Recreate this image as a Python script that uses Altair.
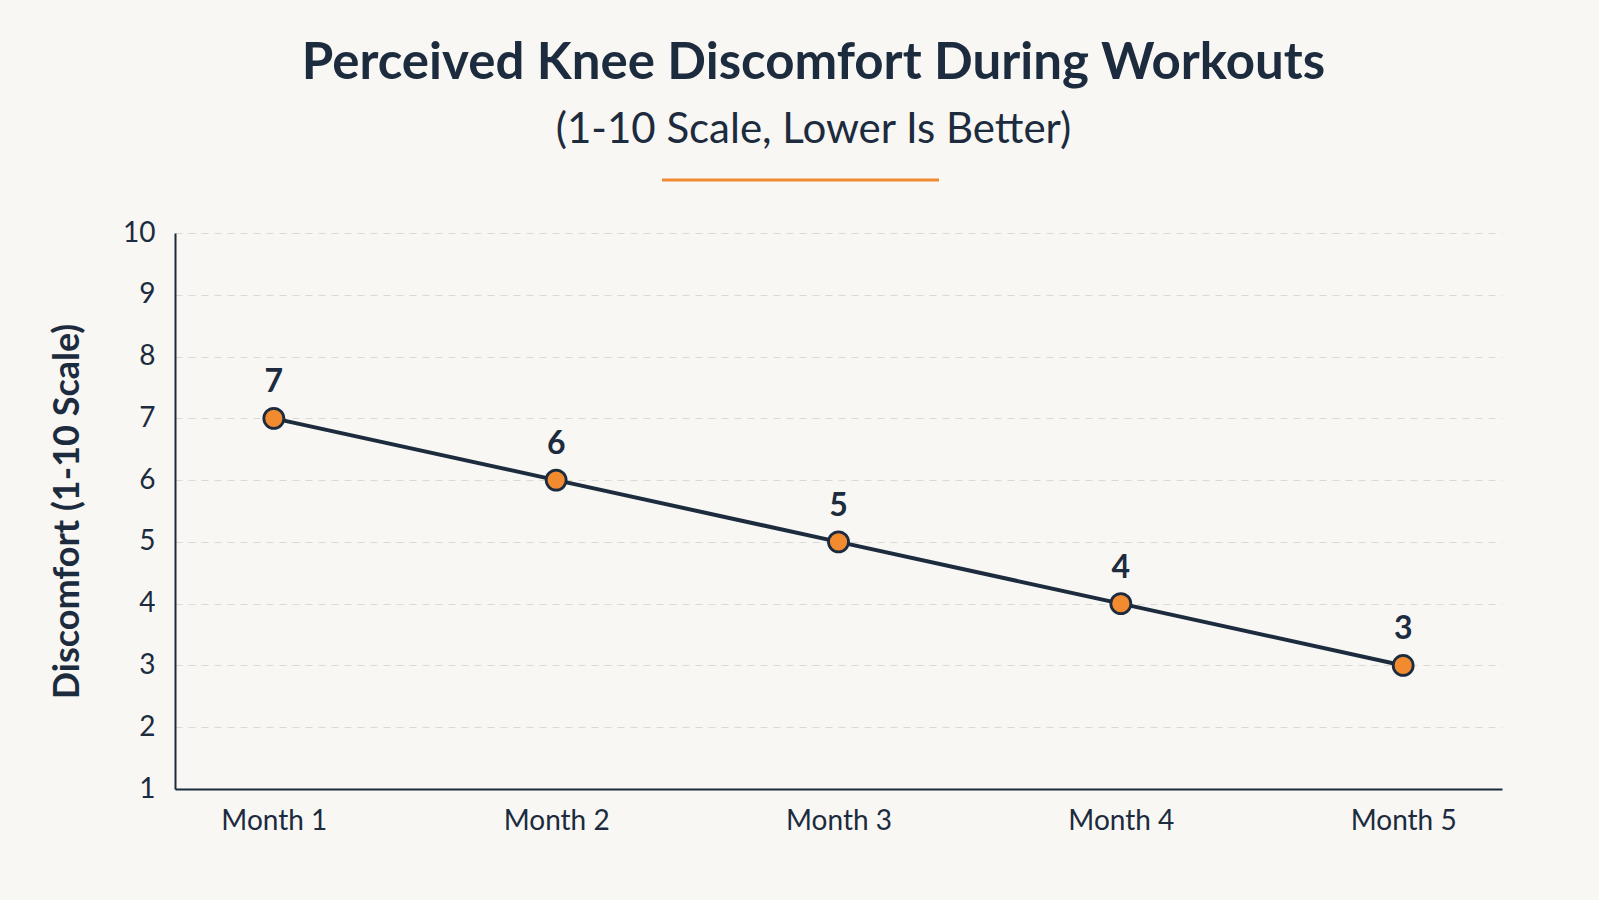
import altair as alt
import pandas as pd

# Monthly self-reported knee discomfort (1-10 scale)
months = ["Month 1", "Month 2", "Month 3", "Month 4", "Month 5"]
discomfort = [7, 6, 5, 4, 3]
y_ticks = [1, 2, 3, 4, 5, 6, 7, 8, 9, 10]

NAVY = "#1c2b3e"
ORANGE = "#f28a30"
BG = "#f8f7f3"
FONT = "Lato"

df = pd.DataFrame({"month": months, "discomfort": discomfort})

x_enc = alt.X(
    "month:N",
    sort=months,
    scale=alt.Scale(type="point", padding=0.35),
    axis=alt.Axis(
        title=None,
        labelFontSize=28,
        labelColor=NAVY,
        labelFont=FONT,
        labelPadding=18,
        labelAngle=0,
        ticks=False,
        domain=True,
        domainColor=NAVY,
        domainWidth=2,
        grid=False,
    ),
)
y_enc = alt.Y(
    "discomfort:Q",
    scale=alt.Scale(domain=[1, 10], nice=False, zero=False),
    axis=alt.Axis(
        title="Discomfort (1-10 Scale)",
        titleFont=FONT,
        titleFontSize=36,
        titleFontWeight="bold",
        titleColor=NAVY,
        titlePadding=36,
        values=y_ticks,
        labelFontSize=28,
        labelColor=NAVY,
        labelFont=FONT,
        labelPadding=20,
        ticks=False,
        domain=True,
        domainColor=NAVY,
        domainWidth=2,
        grid=True,
        gridColor="#d9d9d5",
        gridDash=[7, 6],
        gridWidth=1.2,
    ),
)

base = alt.Chart(df)

line = base.mark_line(color=NAVY, strokeWidth=4).encode(x=x_enc, y=y_enc)

points = base.mark_point(
    filled=True, fill=ORANGE, stroke=NAVY, strokeWidth=2.8, size=400, opacity=1
).encode(x=x_enc, y=y_enc)

labels = base.mark_text(
    font=FONT, fontSize=32, fontWeight="bold", color=NAVY, baseline="middle", dy=-36
).encode(x=x_enc, y=y_enc, text="discomfort:Q")

# Short orange accent under the subtitle
accent = alt.Chart(alt.Data(values=[{}])).mark_rule(
    color=ORANGE, strokeWidth=3
).encode(x=alt.value(487), x2=alt.value(764), y=alt.value(-53))

chart = (
    alt.layer(line, points, labels, accent)
    .properties(
        width=1327,
        height=556,
        background=BG,
        padding={"left": 175, "top": 233, "right": 97, "bottom": 111},
        autosize=alt.AutoSizeParams(type="none"),
        title=alt.TitleParams(
            text="Perceived Knee Discomfort During Workouts",
            subtitle="(1-10 Scale, Lower Is Better)",
            font=FONT,
            fontSize=51,
            fontWeight="bold",
            color=NAVY,
            subtitleFont=FONT,
            subtitleFontSize=42,
            subtitleFontWeight="normal",
            subtitleColor=NAVY,
            subtitlePadding=20,
            anchor="middle",
            dx=-25,
            offset=27,
        ),
    )
    .configure_view(stroke=None)
)

chart.save("out.html", embed_options={"renderer": "svg", "actions": False})
